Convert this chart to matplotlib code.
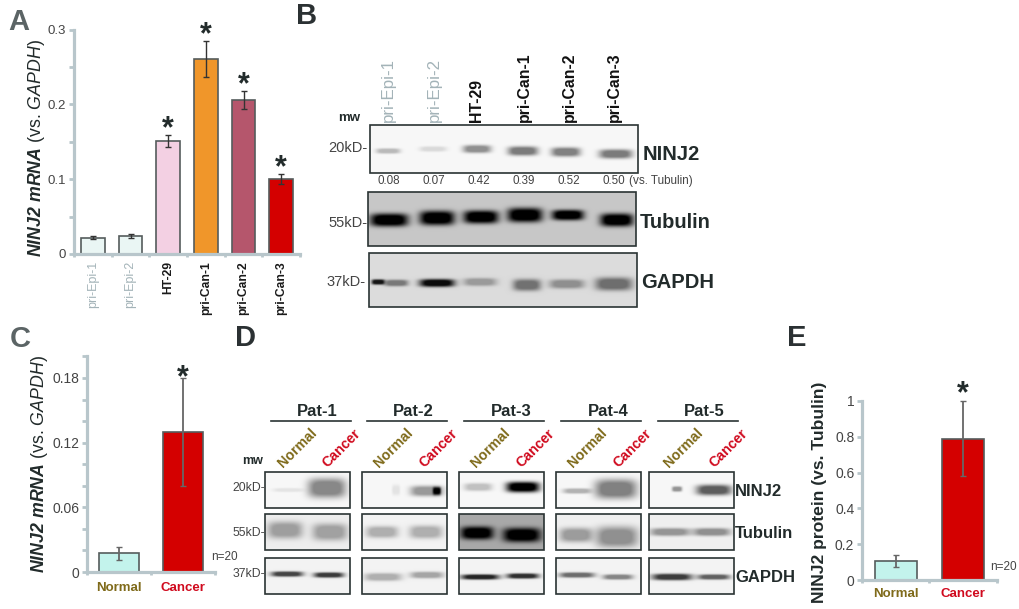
import numpy as np
import matplotlib
matplotlib.use('Agg')
import matplotlib.pyplot as plt
from matplotlib.patches import Rectangle

plt.rcParams['font.family'] = ['Liberation Sans', 'DejaVu Sans']
plt.rcParams['mathtext.fontset'] = 'custom'
plt.rcParams['mathtext.rm'] = 'Liberation Sans'
plt.rcParams['mathtext.it'] = 'Liberation Sans:italic'
plt.rcParams['mathtext.bf'] = 'Liberation Sans:bold'
plt.rcParams['mathtext.bfit'] = 'Liberation Sans:italic:bold'

# Panel A
a_labels = ['pri-Epi-1', 'pri-Epi-2', 'HT-29', 'pri-Can-1', 'pri-Can-2', 'pri-Can-3']
a_values = [0.022, 0.024, 0.151, 0.261, 0.206, 0.100]
a_errors = [0.002, 0.003, 0.008, 0.024, 0.012, 0.007]
a_colors = ['#EAF6F4', '#EAF6F4', '#F3D0E3', '#F0962A', '#B5566C', '#D40000']
a_yticks = [0, 0.1, 0.2, 0.3]
a_yticklabels = ['0', '0.1', '0.2', '0.3']

# Panel B
b_ratios = ['0.08', '0.07', '0.42', '0.39', '0.52', '0.50']
b_ninj2 = [0.25, 0.12, 0.42, 0.50, 0.48, 0.50]
b_tubulin = [1.0, 1.0, 1.0, 1.0, 1.0, 1.0]
b_gapdh = [0.45, 0.95, 0.30, 0.48, 0.35, 0.50]

# Panel C
group_labels = ['Normal', 'Cancer']
c_values = [0.0175, 0.13]
c_errors = [0.006, 0.05]
c_yticks = [0, 0.06, 0.12, 0.18]
c_yticklabels = ['0', '0.06', '0.12', '0.18']

# Panel D: [normal, cancer] band strength for each patient
d_patients = ['Pat-1', 'Pat-2', 'Pat-3', 'Pat-4', 'Pat-5']
d_ninj2 = [[0.08, 0.45], [0.08, 0.38], [0.22, 1.0], [0.28, 0.48], [0.40, 0.62]]
d_tubulin = [[0.33, 0.32], [0.28, 0.28], [1.0, 1.0], [0.35, 0.40], [0.38, 0.40]]
d_gapdh = [[0.72, 0.75], [0.28, 0.32], [0.85, 0.80], [0.55, 0.45], [0.75, 0.60]]

# Panel E
e_values = [0.105, 0.79]
e_errors = [0.035, 0.21]
e_yticks = [0, 0.2, 0.4, 0.6, 0.8, 1]
e_yticklabels = ['0', '0.2', '0.4', '0.6', '0.8', '1']

W, H = 1020, 609
AXIS = '#B8C6CB'
TICK_TXT = '#444444'
DARK = '#222B2B'
FRAME = '#2A3333'
OLIVE = '#7F6A1A'
RED = '#D00A1E'
GREY_LABEL = '#A3B3B8'

fig = plt.figure(figsize=(W / 100, H / 100), dpi=100, facecolor='white')

# overlay in pixel coordinates for blots and loose text
ov = fig.add_axes([0, 0, 1, 1], zorder=0)
ov.set_xlim(0, W)
ov.set_ylim(H, 0)
ov.axis('off')


def chart_axes(left, right, top, bottom):
    ax = fig.add_axes([left / W, 1 - bottom / H, (right - left) / W, (bottom - top) / H], zorder=2)
    ax.patch.set_alpha(0)
    for s in ['top', 'right']:
        ax.spines[s].set_visible(False)
    for s in ['left', 'bottom']:
        ax.spines[s].set_color(AXIS)
        ax.spines[s].set_linewidth(2.3)
    ax.tick_params(axis='y', which='both', color=AXIS, width=2, length=3.5, labelcolor=TICK_TXT, pad=2)
    return ax


def bar_panel(ax, values, errors, colors, yticks, yticklabels, ymax, tick_size, err_color, err_lw, star_idx, star_off):
    xs = np.arange(len(values))
    ax.bar(xs, values, width=0.62, color=colors, edgecolor='#555C5C', linewidth=1.2, zorder=2)
    ax.errorbar(xs, values, yerr=errors, fmt='none', ecolor=err_color, elinewidth=err_lw,
                capsize=2.2, capthick=1, zorder=3, clip_on=False)
    ax.set_xlim(-0.5, len(values) - 0.5)
    ax.set_ylim(0, ymax)
    ax.set_yticks(yticks)
    ax.set_yticklabels(yticklabels, fontsize=tick_size)
    ax.set_xticks(xs)
    ax.set_xticks(np.arange(len(values) + 1) - 0.5, minor=True)
    ax.tick_params(axis='x', which='major', length=0)
    ax.tick_params(axis='x', which='minor', color=AXIS, width=2, length=2.5)
    for i in star_idx:
        ax.annotate('*', (i, values[i] + errors[i]), xytext=(0, star_off), textcoords='offset points',
                    ha='center', va='baseline', fontsize=22, fontweight='bold', color=DARK,
                    annotation_clip=False, zorder=5)


def blot(left, right, top, bottom, bg, bands):
    # bands: (cx, cy, width, height, strength) in figure pixels
    nx, ny = int((right - left) * 2), int((bottom - top) * 2)
    xx, yy = np.meshgrid(np.linspace(left, right, nx), np.linspace(top, bottom, ny))
    img = np.full((ny, nx), bg, dtype=float)
    for cx, cy, w, h, s in bands:
        shape = np.exp(-(np.abs(xx - cx) / (w / 2)) ** 4 - (np.abs(yy - cy) / (h * 0.65)) ** 3)
        img *= 1 - s * np.clip(shape * 1.25, 0, 1)
    ov.imshow(img, cmap='gray', vmin=0, vmax=1, extent=(left, right, bottom, top),
              aspect='auto', interpolation='bilinear', zorder=1)
    ov.add_patch(Rectangle((left, top), right - left, bottom - top, fill=False,
                           edgecolor=FRAME, linewidth=1.2, zorder=2))


# ---- Panel A ----
ax_a = chart_axes(74, 300, 29.5, 254)
bar_panel(ax_a, a_values, a_errors, a_colors, a_yticks, a_yticklabels, 0.3, 9.5, '#333333', 1.0, [2, 3, 4, 5], -1.6)
ax_a.set_yticks([0.05, 0.15, 0.25], minor=True)
ax_a.set_xticklabels(a_labels, rotation=90)
for i, lab in enumerate(ax_a.get_xticklabels()):
    if i < 2:
        lab.set(color=GREY_LABEL, fontsize=9)
    else:
        lab.set(color='#1A1A1A', fontsize=8.7, fontweight='bold')
ax_a.tick_params(axis='x', which='major', pad=5)

# ---- Panel B ----
b_lane_x = [389, 434, 479, 524, 569, 614]
for x, lab, i in zip([388, 434, 477, 524, 569, 614], a_labels, range(6)):
    if i < 2:
        ov.text(x, 122, lab, rotation=90, ha='center', va='bottom', fontsize=12.2, color=GREY_LABEL)
    else:
        ov.text(x, 122, lab, rotation=90, ha='center', va='bottom', fontsize=11.4, color='#111111', fontweight='bold')
for x, lab in zip(b_lane_x, b_ratios):
    ov.text(x, 181, lab, ha='center', va='center', fontsize=8.4, color=TICK_TXT)
ov.text(629, 181, '(vs. Tubulin)', ha='left', va='center', fontsize=8.4, color=TICK_TXT)

n_pos = [(388, 151, 24, 4), (433, 149, 27, 4), (477, 149, 28, 6), (523, 151, 30, 7), (566, 152, 29, 7), (616, 154, 33, 7)]
t_pos = [(389, 220, 38, 10), (437, 218, 35, 11), (481, 217, 35, 10), (525, 215, 35, 11), (568, 215, 32, 8), (617, 220, 33, 10)]
g_pos = [(396, 283, 24, 5), (437, 283, 35, 6), (480, 282, 33, 6), (527, 285, 28, 9), (567, 284, 35, 7), (614, 284, 37, 10)]
blot(370, 638, 125, 173, 0.97, [p + (s,) for p, s in zip(n_pos, b_ninj2)])
blot(368, 636, 192, 246, 0.78, [p + (s,) for p, s in zip(t_pos, b_tubulin)])
blot(369, 637, 253, 307, 0.86, [p + (s,) for p, s in zip(g_pos, b_gapdh)] + [(378, 282, 13, 4, 0.9)])

ov.text(360, 118, 'mw', ha='right', va='center', fontsize=9.5, fontweight='bold', color=DARK)
ov.text(368, 148, '20kD-', ha='right', va='center', fontsize=10.5, color=TICK_TXT)
ov.text(368, 223, '55kD-', ha='right', va='center', fontsize=10.5, color=TICK_TXT)
ov.text(366, 282, '37kD-', ha='right', va='center', fontsize=10.5, color=TICK_TXT)
ov.text(643, 155, 'NINJ2', ha='left', va='center', fontsize=14.5, fontweight='bold', color=DARK)
ov.text(640, 222, 'Tubulin', ha='left', va='center', fontsize=14.5, fontweight='bold', color=DARK)
ov.text(641, 283, 'GAPDH', ha='left', va='center', fontsize=14.5, fontweight='bold', color=DARK)

# ---- Panel C ----
ax_c = chart_axes(87, 215, 356.4, 572)
bar_panel(ax_c, c_values, c_errors, ['#C3F3EC', '#D40000'], c_yticks, c_yticklabels, 0.2, 10, '#666666', 1.3, [1], -5.8)
ax_c.set_yticks([0.02, 0.04, 0.08, 0.10, 0.14, 0.16, 0.2], minor=True)
ax_c.set_xticklabels(group_labels, fontsize=9.5, fontweight='bold')
for lab, col in zip(ax_c.get_xticklabels(), [OLIVE, RED]):
    lab.set_color(col)
ax_c.tick_params(axis='x', which='major', pad=7.5)
ov.text(224, 557, 'n=20', ha='center', va='center', fontsize=8.5, color=TICK_TXT)

# ---- Panel D ----
d_left = [265, 362, 459, 556, 649]
d_line = [(271, 351), (367, 447), (464, 544), (561, 641), (658, 738)]
d_title_x = [317, 413, 511, 608, 704]
d_norm_x = [297, 393, 490, 587, 683]
d_canc_x = [341, 438, 535, 632, 728]
for name, (x0, x1), tx, nx_, cx_ in zip(d_patients, d_line, d_title_x, d_norm_x, d_canc_x):
    ov.plot([x0, x1], [421, 421], color=FRAME, lw=1.2, zorder=3)
    ov.text(tx, 411, name, ha='center', va='center', fontsize=12, fontweight='bold', color=DARK)
    ov.text(nx_, 448, 'Normal', rotation=45, ha='center', va='center', fontsize=10.2, color=OLIVE, fontweight='bold')
    ov.text(cx_, 448, 'Cancer', rotation=45, ha='center', va='center', fontsize=10.2, color=RED, fontweight='bold')

d_n_pos = [[(288, 490, 30, 3), (327, 488, 38, 15)],
           [(396, 490, 8, 8), (427, 491, 33, 8)],
           [(478, 487, 28, 6), (523, 487, 33, 8)],
           [(577, 491, 28, 4), (616, 489, 42, 15)],
           [(677, 489, 10, 4), (714, 490, 35, 8)]]
d_t_pos = [[(285, 530, 35, 13), (330, 532, 35, 13)],
           [(382, 532, 32, 9), (426, 532, 33, 10)],
           [(477, 533, 33, 10), (522, 535, 38, 11)],
           [(576, 535, 33, 11), (617, 537, 42, 16)],
           [(670, 532, 40, 6), (712, 532, 37, 6)]]
d_g_pos = [[(287, 574, 32, 4), (329, 575, 30, 4)],
           [(383, 577, 37, 6), (427, 575, 33, 5)],
           [(480, 577, 38, 4), (523, 576, 32, 4)],
           [(577, 575, 35, 4), (618, 577, 30, 4)],
           [(672, 577, 40, 5), (714, 577, 32, 4)]]
d_bg_t = [0.93, 0.95, 0.66, 0.94, 0.94]
for k, left in enumerate(d_left):
    right = left + 85
    blot(left, right, 472, 508, 0.97, [p + (s,) for p, s in zip(d_n_pos[k], d_ninj2[k])] +
         ([(437, 491, 8, 6, 1.0)] if k == 1 else []))
    blot(left, right, 514, 550, d_bg_t[k], [p + (s,) for p, s in zip(d_t_pos[k], d_tubulin[k])])
    blot(left, right, 558, 594, 0.95, [p + (s,) for p, s in zip(d_g_pos[k], d_gapdh[k])])

ov.text(263, 461, 'mw', ha='right', va='center', fontsize=9, fontweight='bold', color=DARK)
ov.text(265, 488, '20kD-', ha='right', va='center', fontsize=8.8, color=TICK_TXT)
ov.text(265, 533, '55kD-', ha='right', va='center', fontsize=8.8, color=TICK_TXT)
ov.text(265, 574, '37kD-', ha='right', va='center', fontsize=8.8, color=TICK_TXT)
ov.text(735, 491, 'NINJ2', ha='left', va='center', fontsize=12, fontweight='bold', color=DARK)
ov.text(735, 534, 'Tubulin', ha='left', va='center', fontsize=12, fontweight='bold', color=DARK)
ov.text(735, 577, 'GAPDH', ha='left', va='center', fontsize=12, fontweight='bold', color=DARK)

# ---- Panel E ----
ax_e = chart_axes(862, 997, 401, 580)
bar_panel(ax_e, e_values, e_errors, ['#C3F3EC', '#D40000'], e_yticks, e_yticklabels, 1.0, 10, '#666666', 1.3, [1], -0.8)
ax_e.set_xticklabels(group_labels, fontsize=9.5, fontweight='bold')
for lab, col in zip(ax_e.get_xticklabels(), [OLIVE, RED]):
    lab.set_color(col)
ax_e.tick_params(axis='x', which='major', pad=6)
ov.text(1003, 567, 'n=20', ha='center', va='center', fontsize=8.5, color=TICK_TXT)

# axis titles and panel letters
mrna_label = r'$\mathbfit{NINJ2\ mRNA}$ (vs. $\mathit{GAPDH}$)'
ov.text(37, 148, mrna_label, rotation=90, ha='center', va='center', fontsize=12.8, color=DARK)
ov.text(40, 464, mrna_label, rotation=90, ha='center', va='center', fontsize=12.8, color=DARK)
ov.text(820, 492, 'NINJ2 protein (vs. Tubulin)', rotation=90, ha='center', va='center',
        fontsize=12.6, fontweight='bold', color=DARK)

for letter, x, y, col in [('A', 8, 30, '#5B6465'), ('B', 296, 24, '#2B3133'), ('C', 10, 347, '#5B6465'),
                          ('D', 235, 346, '#2B3133'), ('E', 787, 346, '#2B3133')]:
    ov.text(x, y, letter, ha='left', va='baseline', fontsize=21, fontweight='bold', color=col)

fig.savefig('out.png', dpi=100)
